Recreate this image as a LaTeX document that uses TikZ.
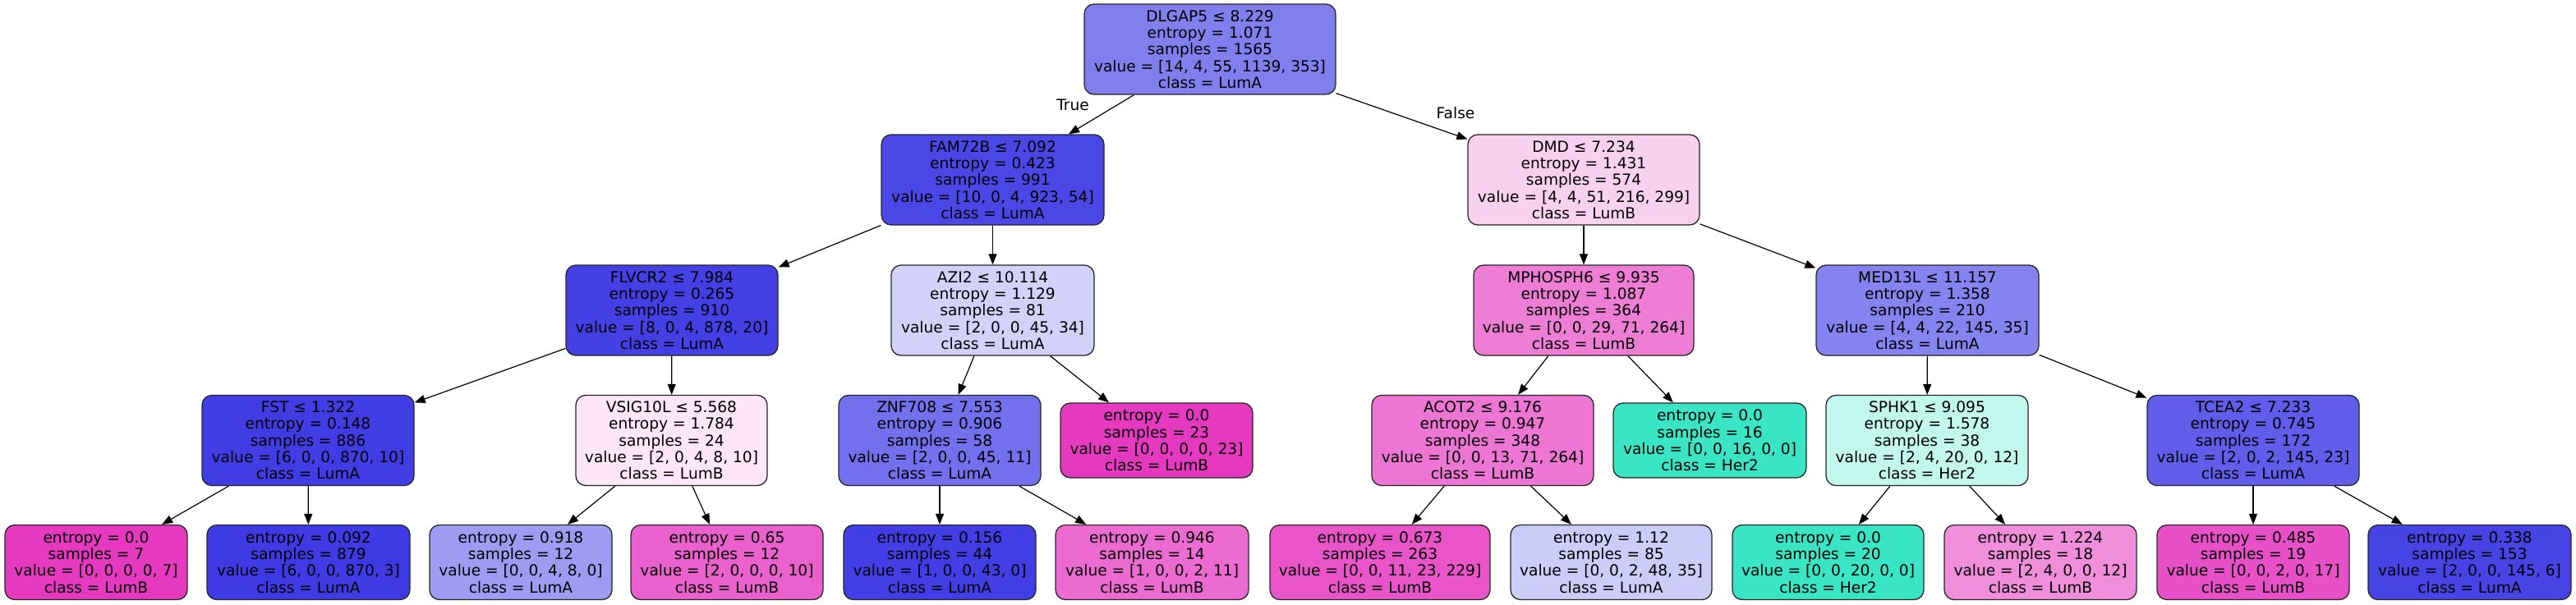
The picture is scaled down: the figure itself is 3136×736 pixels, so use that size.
\documentclass[tikz,border=0pt]{standalone}
\usepackage{fontspec}
\setmainfont{DejaVu Sans}
\usetikzlibrary{arrows.meta}
\definecolor{LumA}{RGB}{60,57,229}
\definecolor{LumB}{RGB}{229,57,192}
\definecolor{HerTwo}{RGB}{57,229,197}
\tikzset{
  tnode/.style={draw=black!85, line width=1.3pt, rounded corners=12pt, align=center,
    inner sep=0pt, minimum height=110pt, font=\fontsize{18.6}{20.3}\selectfont},
  lnode/.style={tnode, minimum height=91pt},
  edge/.style={line width=1.2pt, -{Triangle[length=13pt,width=10pt]}},
  elabel/.style={font=\fontsize{18.6}{20.3}\selectfont, inner sep=0pt}
}
\begin{document}
\begin{tikzpicture}[x=1pt,y=1pt]
\useasboundingbox (0,0) rectangle (3136,-736);
% level 0
\node[tnode, minimum width=306pt, fill=LumA!64.85!white] (n0) at (1473,-60) {DLGAP5 ≤ 8.229\\entropy = 1.071\\samples = 1565\\value = [14, 4, 55, 1139, 353]\\class = LumA};
% level 1
\node[tnode, minimum width=271pt, fill=LumA!92.74!white] (n1) at (1208.5,-219) {FAM72B ≤ 7.092\\entropy = 0.423\\samples = 991\\value = [10, 0, 4, 923, 54]\\class = LumA};
\node[tnode, minimum width=282pt, fill=LumB!23.18!white] (n2) at (1928,-219) {DMD ≤ 7.234\\entropy = 1.431\\samples = 574\\value = [4, 4, 51, 216, 299]\\class = LumB};
% level 2
\node[tnode, minimum width=258pt, fill=LumA!96.40!white] (n3) at (818,-378) {FLVCR2 ≤ 7.984\\entropy = 0.265\\samples = 910\\value = [8, 0, 4, 878, 20]\\class = LumA};
\node[tnode, minimum width=247pt, fill=LumA!23.40!white] (n4) at (1208.5,-378) {AZI2 ≤ 10.114\\entropy = 1.129\\samples = 81\\value = [2, 0, 0, 45, 34]\\class = LumA};
\node[tnode, minimum width=268pt, fill=LumB!65.87!white] (n5) at (1928,-378) {MPHOSPH6 ≤ 9.935\\entropy = 1.087\\samples = 364\\value = [0, 0, 29, 71, 264]\\class = LumB};
\node[tnode, minimum width=271pt, fill=LumA!62.86!white] (n6) at (2346.5,-378) {MED13L ≤ 11.157\\entropy = 1.358\\samples = 210\\value = [4, 4, 22, 145, 35]\\class = LumA};
% level 3
\node[tnode, minimum width=258pt, fill=LumA!98.17!white] (n7) at (375,-536.5) {FST ≤ 1.322\\entropy = 0.148\\samples = 886\\value = [6, 0, 0, 870, 10]\\class = LumA};
\node[tnode, minimum width=233pt, fill=LumB!12.5!white] (n8) at (817.5,-536.5) {VSIG10L ≤ 5.568\\entropy = 1.784\\samples = 24\\value = [2, 0, 4, 8, 10]\\class = LumB};
\node[tnode, minimum width=246pt, fill=LumA!72.34!white] (n9) at (1144,-536.5) {ZNF708 ≤ 7.553\\entropy = 0.906\\samples = 58\\value = [2, 0, 0, 45, 11]\\class = LumA};
\node[lnode, minimum width=234pt, fill=LumB] (n10) at (1408,-536.5) {entropy = 0.0\\samples = 23\\value = [0, 0, 0, 0, 23]\\class = LumB};
\node[tnode, minimum width=270pt, fill=LumB!69.68!white] (n11) at (1805,-536.5) {ACOT2 ≤ 9.176\\entropy = 0.947\\samples = 348\\value = [0, 0, 13, 71, 264]\\class = LumB};
\node[lnode, minimum width=235pt, fill=HerTwo] (n12) at (2081.5,-536.5) {entropy = 0.0\\samples = 16\\value = [0, 0, 16, 0, 0]\\class = Her2};
\node[tnode, minimum width=246pt, fill=HerTwo!30.77!white] (n13) at (2346,-536.5) {SPHK1 ≤ 9.095\\entropy = 1.578\\samples = 38\\value = [2, 4, 20, 0, 12]\\class = Her2};
\node[tnode, minimum width=258pt, fill=LumA!81.88!white] (n14) at (2743,-536.5) {TCEA2 ≤ 7.233\\entropy = 0.745\\samples = 172\\value = [2, 0, 2, 145, 23]\\class = LumA};
% level 4
\node[lnode, minimum width=222pt, fill=LumB] (n15) at (117,-685) {entropy = 0.0\\samples = 7\\value = [0, 0, 0, 0, 7]\\class = LumB};
\node[lnode, minimum width=247pt, fill=LumA!98.97!white] (n16) at (375.5,-685) {entropy = 0.092\\samples = 879\\value = [6, 0, 0, 870, 3]\\class = LumA};
\node[lnode, minimum width=222pt, fill=LumA!50!white] (n17) at (634,-685) {entropy = 0.918\\samples = 12\\value = [0, 0, 4, 8, 0]\\class = LumA};
\node[lnode, minimum width=234pt, fill=LumB!80!white] (n18) at (885,-685) {entropy = 0.65\\samples = 12\\value = [2, 0, 0, 0, 10]\\class = LumB};
\node[lnode, minimum width=234pt, fill=LumA!97.67!white] (n19) at (1144,-685) {entropy = 0.156\\samples = 44\\value = [1, 0, 0, 43, 0]\\class = LumA};
\node[lnode, minimum width=235pt, fill=LumB!75!white] (n20) at (1402.5,-685) {entropy = 0.946\\samples = 14\\value = [1, 0, 0, 2, 11]\\class = LumB};
\node[lnode, minimum width=268pt, fill=LumB!85.83!white] (n21) at (1680,-685) {entropy = 0.673\\samples = 263\\value = [0, 0, 11, 23, 229]\\class = LumB};
\node[lnode, minimum width=245pt, fill=LumA!26!white] (n22) at (1961.5,-685) {entropy = 1.12\\samples = 85\\value = [0, 0, 2, 48, 35]\\class = LumA};
\node[lnode, minimum width=233pt, fill=HerTwo] (n23) at (2225.5,-685) {entropy = 0.0\\samples = 20\\value = [0, 0, 20, 0, 0]\\class = Her2};
\node[lnode, minimum width=234pt, fill=LumB!57.14!white] (n24) at (2484,-685) {entropy = 1.224\\samples = 18\\value = [2, 4, 0, 0, 12]\\class = LumB};
\node[lnode, minimum width=234pt, fill=LumB!88.24!white] (n25) at (2743,-685) {entropy = 0.485\\samples = 19\\value = [0, 0, 2, 0, 17]\\class = LumB};
\node[lnode, minimum width=247pt, fill=LumA!94.56!white] (n26) at (3006.5,-685) {entropy = 0.338\\samples = 153\\value = [2, 0, 0, 145, 6]\\class = LumA};
% edges
\draw[edge] (n0) -- (n1);
\draw[edge] (n0) -- (n2);
\draw[edge] (n1) -- (n3);
\draw[edge] (n1) -- (n4);
\draw[edge] (n2) -- (n5);
\draw[edge] (n2) -- (n6);
\draw[edge] (n3) -- (n7);
\draw[edge] (n3) -- (n8);
\draw[edge] (n4) -- (n9);
\draw[edge] (n4) -- (n10);
\draw[edge] (n5) -- (n11);
\draw[edge] (n5) -- (n12);
\draw[edge] (n6) -- (n13);
\draw[edge] (n6) -- (n14);
\draw[edge] (n7) -- (n15);
\draw[edge] (n7) -- (n16);
\draw[edge] (n8) -- (n17);
\draw[edge] (n8) -- (n18);
\draw[edge] (n9) -- (n19);
\draw[edge] (n9) -- (n20);
\draw[edge] (n11) -- (n21);
\draw[edge] (n11) -- (n22);
\draw[edge] (n13) -- (n23);
\draw[edge] (n13) -- (n24);
\draw[edge] (n14) -- (n25);
\draw[edge] (n14) -- (n26);
% edge labels
\node[elabel] (ltrue) at (1306,-128) {True};
\node[elabel] (lfalse) at (1772,-138) {False};
\end{tikzpicture}
\end{document}
